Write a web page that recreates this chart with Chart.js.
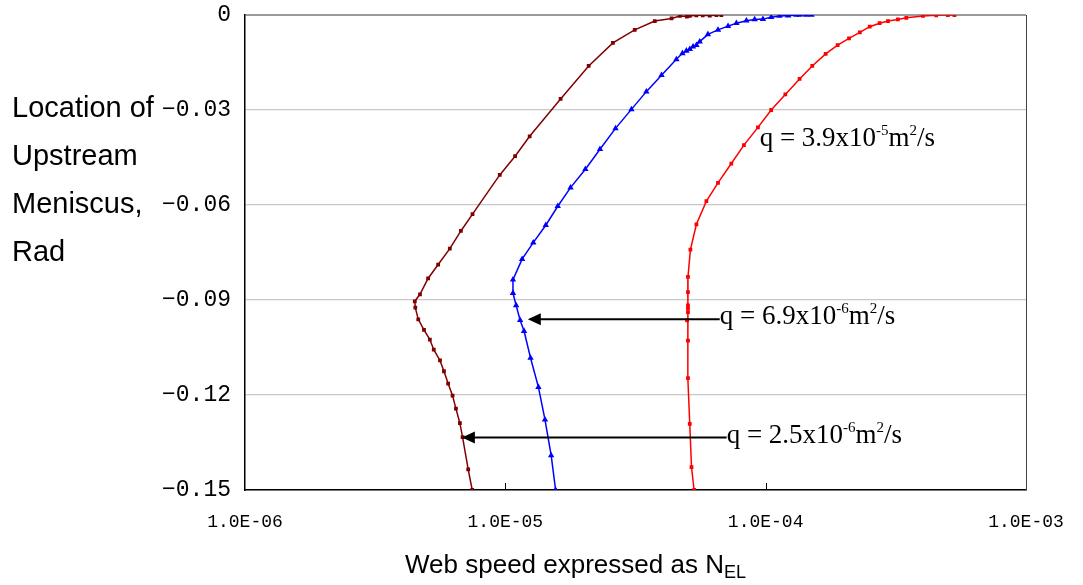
<!DOCTYPE html>
<html>
<head>
<meta charset="utf-8">
<script src="https://cdn.jsdelivr.net/npm/chart.js@4"></script>
<style>
  html, body { margin: 0; padding: 0; background: #fff; }
  #wrap { width: 1083px; height: 585px; }
</style>
</head>
<body>
<div id="wrap"><canvas id="meniscusChart" width="1083" height="585"></canvas></div>
<script>
// q = 2.5x10^-6 m2/s (dark red)
const speedLow = [6.76e-5, 6.47e-5, 6.10e-5, 5.73e-5, 5.42e-5, 5.11e-5, 4.98e-5, 4.68e-5, 4.35e-5, 3.75e-5, 3.14e-5, 2.59e-5, 2.09e-5, 1.63e-5, 1.24e-5, 1.09e-5, 9.52e-6, 7.48e-6, 6.75e-6, 6.12e-6, 5.52e-6, 5.05e-6, 4.70e-6, 4.49e-6, 4.51e-6, 4.63e-6, 4.87e-6, 5.13e-6, 5.31e-6, 5.61e-6, 5.81e-6, 6.03e-6, 6.27e-6, 6.46e-6, 6.69e-6, 6.85e-6, 7.20e-6, 7.46e-6];
const locLow = [0, 0, -0.0002, -0.0001, -0.0001, -0.0003, -0.0005, -0.0003, -0.0011, -0.0019, -0.0047, -0.0088, -0.0161, -0.0265, -0.0383, -0.0446, -0.0505, -0.0629, -0.0682, -0.0738, -0.0788, -0.0832, -0.0882, -0.0904, -0.0924, -0.0961, -0.0994, -0.1025, -0.1057, -0.1091, -0.1125, -0.1164, -0.1202, -0.1243, -0.1289, -0.1333, -0.1435, -0.15];

// q = 6.9x10^-6 m2/s (blue)
const speedMid = [1.50e-4, 1.43e-4, 1.35e-4, 1.31e-4, 1.22e-4, 1.13e-4, 1.05e-4, 9.76e-5, 9.07e-5, 8.43e-5, 7.72e-5, 7.17e-5, 6.56e-5, 6.00e-5, 5.58e-5, 5.42e-5, 5.26e-5, 5.11e-5, 4.96e-5, 4.79e-5, 4.54e-5, 3.98e-5, 3.48e-5, 3.05e-5, 2.65e-5, 2.31e-5, 2.03e-5, 1.78e-5, 1.59e-5, 1.43e-5, 1.28e-5, 1.16e-5, 1.07e-5, 1.07e-5, 1.10e-5, 1.14e-5, 1.18e-5, 1.25e-5, 1.34e-5, 1.42e-5, 1.50e-5, 1.56e-5];
const locMid = [0, 0, 0, 0, -0.0002, -0.0003, -0.0007, -0.0013, -0.0014, -0.0018, -0.0026, -0.0035, -0.0047, -0.0061, -0.0084, -0.0095, -0.0100, -0.0108, -0.0113, -0.0121, -0.0140, -0.0190, -0.0242, -0.0298, -0.0358, -0.0424, -0.0487, -0.0545, -0.0604, -0.0664, -0.0719, -0.0771, -0.0836, -0.0878, -0.0917, -0.0964, -0.0998, -0.1083, -0.1175, -0.1278, -0.1391, -0.15];

// q = 3.9x10^-5 m2/s (red)
const speedHigh = [5.31e-4, 5.01e-4, 4.52e-4, 4.02e-4, 3.47e-4, 3.22e-4, 2.95e-4, 2.74e-4, 2.51e-4, 2.30e-4, 2.09e-4, 1.89e-4, 1.70e-4, 1.51e-4, 1.35e-4, 1.19e-4, 1.05e-4, 9.34e-5, 8.25e-5, 7.38e-5, 6.56e-5, 5.92e-5, 5.42e-5, 5.14e-5, 5.03e-5, 5.03e-5, 5.03e-5, 5.03e-5, 5.03e-5, 4.99e-5, 5.03e-5, 5.03e-5, 5.11e-5, 5.19e-5, 5.31e-5];
const locHigh = [0, 0, -0.0001, -0.0003, -0.0009, -0.0014, -0.0019, -0.0026, -0.0037, -0.0055, -0.0074, -0.0095, -0.0123, -0.0161, -0.0202, -0.0251, -0.0300, -0.0355, -0.0411, -0.0469, -0.0530, -0.0588, -0.0661, -0.0741, -0.0827, -0.0875, -0.0917, -0.0926, -0.0938, -0.0964, -0.1028, -0.1147, -0.1291, -0.1428, -0.15];

// axis ticks
const xTickValues = [1e-6, 1e-5, 1e-4, 1e-3];
const xTickLabels = ['1.0E-06', '1.0E-05', '1.0E-04', '1.0E-03'];
const yTickValues = [0, -0.03, -0.06, -0.09, -0.12, -0.15];

// flow-rate labels: [text, superscript, text, superscript, text], placed in data units
const noteParts = [
  ['q = 3.9x10', '-5', 'm', '2', '/s'],
  ['q = 6.9x10', '-6', 'm', '2', '/s'],
  ['q = 2.5x10', '-6', 'm', '2', '/s']
];
const noteX = [9.48e-5, 6.66e-5, 7.08e-5];
const noteY = [-0.0386, -0.0948, -0.1322];
// arrows from label to curve (null = no arrow)
const arrowTipX = [null, 1.22e-5, 6.81e-6];
const arrowTipY = [null, -0.0961, -0.1334];

const toPoints = (xs, ys) => xs.map((x, i) => ({ x: x, y: ys[i] }));

const fmtY = v => {
  const r = Math.round(v * 100) / 100;
  if (r === 0) return '0';
  return '\u2212' + Math.abs(r).toFixed(2);
};

// inner tick marks, right edge, axis titles, flow-rate notes
const extras = {
  id: 'extras',
  afterDraw(chart) {
    const ctx = chart.ctx;
    const xs = chart.scales.x, ys = chart.scales.y;
    const area = chart.chartArea;
    ctx.save();

    ctx.strokeStyle = '#000';
    ctx.lineWidth = 1;
    xTickValues.slice(1, -1).forEach(v => {
      const px = Math.round(xs.getPixelForValue(v)) + 0.5;
      ctx.beginPath();
      ctx.moveTo(px, area.bottom);
      ctx.lineTo(px, area.bottom - 7);
      ctx.stroke();
    });
    ctx.strokeStyle = '#444';
    ctx.beginPath();
    ctx.moveTo(Math.round(area.right) + 0.5, area.top);
    ctx.lineTo(Math.round(area.right) + 0.5, area.bottom);
    ctx.stroke();

    // y title, one line per row
    ctx.fillStyle = '#000';
    ctx.font = '29px "Liberation Sans", Arial, sans-serif';
    ctx.textAlign = 'left';
    ctx.textBaseline = 'middle';
    ['Location of', 'Upstream', 'Meniscus,', 'Rad'].forEach((t, i) => {
      ctx.fillText(t, 12, 109 + i * 48);
    });

    // x title with subscript
    const main = 'Web speed expressed as N';
    const x0 = area.left + 160;
    ctx.font = '26px "Liberation Sans", Arial, sans-serif';
    const w1 = ctx.measureText(main).width;
    ctx.fillText(main, x0, 566);
    ctx.font = '18px "Liberation Sans", Arial, sans-serif';
    ctx.fillText('EL', x0 + w1, 573);

    // notes and arrows
    noteParts.forEach((parts, i) => {
      const tx = xs.getPixelForValue(noteX[i]);
      const ty = ys.getPixelForValue(noteY[i]);
      if (arrowTipX[i] !== null) {
        const ax = xs.getPixelForValue(arrowTipX[i]);
        const ay = ys.getPixelForValue(arrowTipY[i]);
        ctx.strokeStyle = '#000';
        ctx.lineWidth = 2;
        ctx.beginPath();
        ctx.moveTo(tx, ay);
        ctx.lineTo(ax + 10, ay);
        ctx.stroke();
        ctx.fillStyle = '#000';
        ctx.beginPath();
        ctx.moveTo(ax, ay);
        ctx.lineTo(ax + 13, ay - 6);
        ctx.lineTo(ax + 13, ay + 6);
        ctx.closePath();
        ctx.fill();
      }
      let cx = tx;
      ctx.fillStyle = '#000';
      ctx.textBaseline = 'alphabetic';
      parts.forEach((p, k) => {
        const sup = k % 2 === 1;
        ctx.font = (sup ? '15px' : '27px') + ' "Liberation Serif", "Times New Roman", serif';
        ctx.fillText(p, cx, ty + (sup ? -2 : 9));
        cx += ctx.measureText(p).width;
      });
    });

    ctx.restore();
  }
};

const ctx = document.getElementById('meniscusChart').getContext('2d');

new Chart(ctx, {
  type: 'scatter',
  data: {
    datasets: [{
      label: 'q = 2.5e-6',
      data: toPoints(speedLow, locLow),
      borderColor: '#800000',
      backgroundColor: '#800000',
      borderWidth: 1.5,
      pointStyle: 'rect',
      pointRadius: 1.6,
      showLine: true
    }, {
      label: 'q = 6.9e-6',
      data: toPoints(speedMid, locMid),
      borderColor: '#0000ff',
      backgroundColor: '#0000ff',
      borderWidth: 1.5,
      pointStyle: 'triangle',
      pointRadius: 2.2,
      showLine: true
    }, {
      label: 'q = 3.9e-5',
      data: toPoints(speedHigh, locHigh),
      borderColor: '#ff0000',
      backgroundColor: '#ff0000',
      borderWidth: 1.5,
      pointStyle: 'rect',
      pointRadius: 1.6,
      showLine: true
    }]
  },
  options: {
    responsive: false,
    animation: false,
    events: [],
    layout: {
      padding: { top: 15, right: 57, left: 0, bottom: 0 }
    },
    plugins: {
      legend: { display: false },
      tooltip: { enabled: false }
    },
    scales: {
      x: {
        type: 'logarithmic',
        min: 1e-6,
        max: 1e-3,
        afterBuildTicks: s => { s.ticks = xTickValues.map(v => ({ value: v })); },
        afterFit: s => { s.height = 95; s.paddingLeft = 0; s.paddingRight = 0; },
        ticks: {
          padding: 21,
          color: '#000',
          font: { family: '"Liberation Mono", "Courier New", monospace', size: 18 },
          callback: (v) => xTickLabels[xTickValues.indexOf(v)]
        },
        grid: { drawOnChartArea: false, drawTicks: false },
        border: { color: '#000', width: 1.5 }
      },
      y: {
        min: -0.15,
        max: 0,
        afterBuildTicks: s => { s.ticks = yTickValues.map(v => ({ value: v })); },
        afterFit: s => { s.width = 245; s.paddingTop = 0; s.paddingBottom = 0; },
        ticks: {
          padding: 14,
          color: '#000',
          font: { family: '"Liberation Mono", "Courier New", monospace', size: 23 },
          callback: fmtY
        },
        grid: {
          drawTicks: false,
          color: c => (c.tick && c.tick.value === 0 ? '#9a9a9a' : '#c8c8c8'),
          lineWidth: c => (c.tick && c.tick.value === 0 ? 2 : 1.2)
        },
        border: { color: '#000', width: 1.5 }
      }
    }
  },
  plugins: [extras]
});
</script>
</body>
</html>
